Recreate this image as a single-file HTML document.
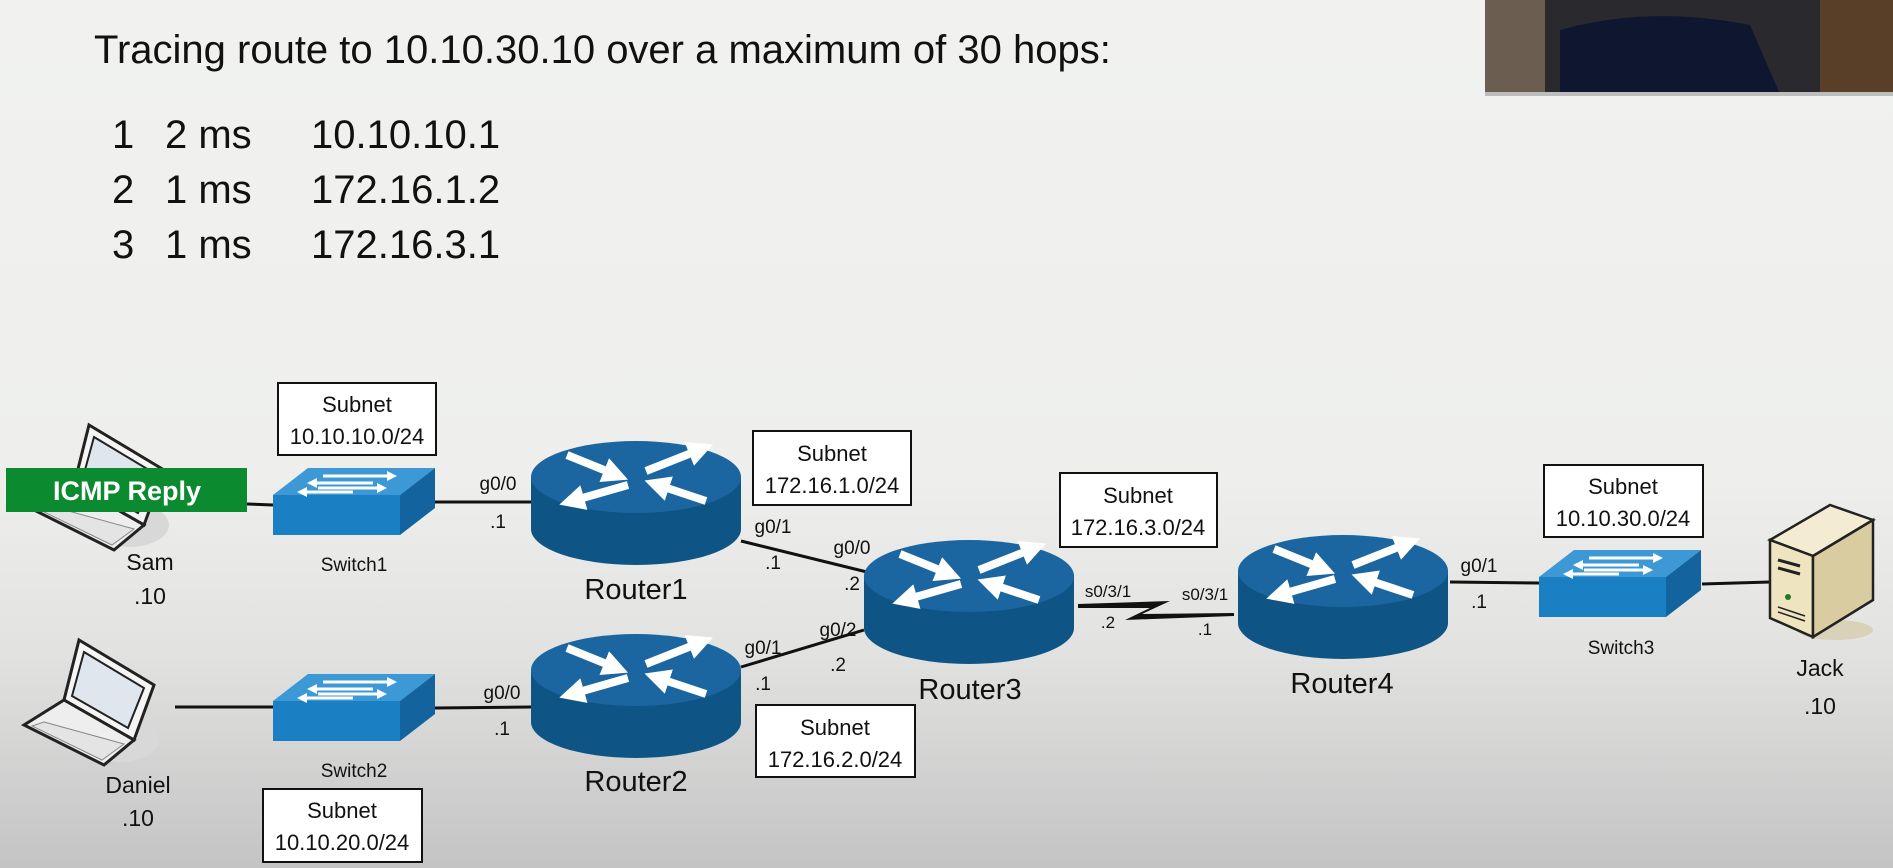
<!DOCTYPE html>
<html><head><meta charset="utf-8"><style>
html,body{margin:0;padding:0}
body{width:1893px;height:868px;overflow:hidden;background:linear-gradient(#f1f2f0 0%,#eeefed 55%,#e2e2e1 75%,#c4c4c4 100%);font-family:"Liberation Sans",sans-serif}
svg{position:absolute;left:0;top:0}
</style></head><body>
<svg width="1893" height="868" viewBox="0 0 1893 868" font-family="Liberation Sans, sans-serif">
<defs>
<marker id="ah" viewBox="0 0 10 10" refX="2" refY="5" markerWidth="3.2" markerHeight="3.2" orient="auto" markerUnits="strokeWidth">
 <path d="M0,0 L10,5 L0,10 Z" fill="#fff"/>
</marker>
<g id="router">
 <path d="M0,36 L0,88 A105,36 0 0 0 210,88 L210,36 Z" fill="#0e5586"/>
 <ellipse cx="105" cy="36" rx="105" ry="36" fill="#1b66a0"/>
 <g stroke="#fff" stroke-width="8" marker-end="url(#ah)">
  <line x1="36" y1="14" x2="78" y2="31"/>
  <line x1="115" y1="30" x2="163" y2="11"/>
  <line x1="97" y1="44" x2="48" y2="58"/>
  <line x1="175" y1="60" x2="133" y2="46"/>
 </g>
</g>
<g id="switch">
 <polygon points="0,27 127,27 162,0 35,0" fill="#3c99d6"/>
 <rect x="0" y="27" width="127" height="40" fill="#1b7fc4"/>
 <polygon points="127,27 162,0 162,40 127,67" fill="#12639e"/>
 <g stroke="#fff" stroke-width="3" fill="#fff">
  <line x1="50" y1="8" x2="120" y2="8"/><polygon points="124,8 114,3 114,13" stroke="none"/>
  <line x1="40" y1="15" x2="100" y2="15"/><polygon points="34,15 44,10 44,20" stroke="none"/>
  <line x1="45" y1="20" x2="110" y2="20"/><polygon points="114,20 104,15 104,25" stroke="none"/>
  <line x1="30" y1="24" x2="80" y2="24"/><polygon points="24,24 34,19 34,29" stroke="none"/>
 </g>
</g>
<g id="laptop">
 <ellipse cx="95" cy="100" rx="40" ry="22" fill="#d8d8d8"/>
 <polygon points="55,0 130,45 110,100 40,60" fill="#f5f5f5" stroke="#222" stroke-width="3"/>
 <polygon points="60,12 120,48 104,88 48,56" fill="#dfe6ee" stroke="#222" stroke-width="2"/>
 <polygon points="40,60 110,100 80,125 0,85" fill="#eee" stroke="#222" stroke-width="3"/>
 <polygon points="20,82 100,104 78,120 8,86" fill="#e4e4e4" stroke="#888" stroke-width="1"/>
</g>
</defs>

<text x="94" y="63" font-size="40" fill="#111">Tracing route to 10.10.30.10 over a maximum of 30 hops:</text>
<g font-size="40" fill="#111">
 <text x="112" y="148">1</text><text x="165" y="148">2 ms</text><text x="311" y="148">10.10.10.1</text>
 <text x="112" y="203">2</text><text x="165" y="203">1 ms</text><text x="311" y="203">172.16.1.2</text>
 <text x="112" y="258">3</text><text x="165" y="258">1 ms</text><text x="311" y="258">172.16.3.1</text>
</g>

<!-- webcam -->
<rect x="1485" y="0" width="408" height="94" fill="#2a2a2e"/>
<rect x="1485" y="0" width="60" height="94" fill="#6b5e50"/>
<rect x="1820" y="0" width="73" height="94" fill="#5a3f28"/>
<path d="M1560,94 L1560,30 Q1650,5 1750,25 L1780,94 Z" fill="#0f1630"/>
<rect x="1485" y="92" width="408" height="4" fill="#bdbdbd"/>

<!-- lines -->
<g stroke="#111" stroke-width="3" fill="none">
 <line x1="247" y1="504" x2="273" y2="505"/>
 <line x1="435" y1="502" x2="531" y2="502"/>
 <line x1="741" y1="541" x2="871" y2="573"/>
 <line x1="175" y1="707" x2="273" y2="707"/>
 <line x1="435" y1="708" x2="531" y2="707"/>
 <line x1="741" y1="667" x2="864" y2="630"/>
 <line x1="1450" y1="582" x2="1539" y2="583"/>
 <line x1="1702" y1="584" x2="1770" y2="582"/>
</g>
<polygon points="1078,604 1170,601 1142,614 1234,613 1234,616 1125,620 1150,608 1078,608" fill="#111"/>

<use href="#router" x="531" y="441"/>
<use href="#router" x="531" y="634"/>
<use href="#router" x="864" y="540"/>
<use href="#router" x="1238" y="535"/>

<use href="#switch" x="273" y="468"/>
<use href="#switch" x="273" y="674"/>
<use href="#switch" x="1539" y="550"/>

<use href="#laptop" x="34" y="425"/>
<use href="#laptop" x="24" y="640"/>

<!-- server -->
<g>
 <ellipse cx="1835" cy="630" rx="38" ry="10" fill="#d9d2b8"/>
 <polygon points="1770,540 1830,505 1873,520 1813,556" fill="#f4ecd2" stroke="#222" stroke-width="2.5"/>
 <polygon points="1770,540 1813,556 1813,637 1770,618" fill="#efe4c0" stroke="#222" stroke-width="2.5"/>
 <polygon points="1813,556 1873,520 1873,600 1813,637" fill="#d9cca0" stroke="#222" stroke-width="2.5"/>
 <line x1="1778" y1="560" x2="1800" y2="566" stroke="#222" stroke-width="3"/>
 <line x1="1778" y1="568" x2="1800" y2="574" stroke="#222" stroke-width="3"/>
 <circle cx="1788" cy="597" r="3" fill="#1a7a2a"/>
 <line x1="1778" y1="607" x2="1805" y2="616" stroke="#222" stroke-width="1.5"/>
 <line x1="1778" y1="612" x2="1805" y2="621" stroke="#222" stroke-width="1.5"/>
</g>

<!-- ICMP -->
<rect x="6" y="468" width="241" height="44" fill="#0c8a2f"/>
<text x="127" y="500" font-size="27" font-weight="bold" fill="#fff" text-anchor="middle">ICMP Reply</text>

<!-- subnet boxes -->
<g fill="#fff" stroke="#111" stroke-width="2">
 <rect x="278" y="383" width="158" height="72"/>
 <rect x="753" y="431" width="158" height="74"/>
 <rect x="1060" y="473" width="157" height="74"/>
 <rect x="1544" y="465" width="159" height="72"/>
 <rect x="756" y="705" width="159" height="72"/>
 <rect x="263" y="789" width="159" height="73"/>
</g>
<g font-size="22" fill="#111" text-anchor="middle">
 <text x="357" y="412">Subnet</text><text x="357" y="444">10.10.10.0/24</text>
 <text x="832" y="461">Subnet</text><text x="832" y="493">172.16.1.0/24</text>
 <text x="1138" y="503">Subnet</text><text x="1138" y="535">172.16.3.0/24</text>
 <text x="1623" y="494">Subnet</text><text x="1623" y="526">10.10.30.0/24</text>
 <text x="835" y="735">Subnet</text><text x="835" y="767">172.16.2.0/24</text>
 <text x="342" y="818">Subnet</text><text x="342" y="850">10.10.20.0/24</text>
</g>

<g font-size="29" fill="#111" text-anchor="middle">
 <text x="636" y="599">Router1</text>
 <text x="636" y="791">Router2</text>
 <text x="970" y="699">Router3</text>
 <text x="1342" y="693">Router4</text>
</g>
<g font-size="19" fill="#111" text-anchor="middle">
 <text x="354" y="571">Switch1</text>
 <text x="354" y="777">Switch2</text>
 <text x="1621" y="654">Switch3</text>
</g>
<g font-size="23" fill="#111" text-anchor="middle">
 <text x="150" y="570">Sam</text><text x="150" y="604">.10</text>
 <text x="138" y="793">Daniel</text><text x="138" y="826">.10</text>
 <text x="1820" y="676">Jack</text><text x="1820" y="714">.10</text>
</g>
<g font-size="19" fill="#111" text-anchor="middle">
 <text x="498" y="490">g0/0</text><text x="498" y="528">.1</text>
 <text x="773" y="533">g0/1</text><text x="773" y="569">.1</text>
 <text x="852" y="554">g0/0</text><text x="852" y="590">.2</text>
 <text x="763" y="654">g0/1</text><text x="763" y="690">.1</text>
 <text x="838" y="636">g0/2</text><text x="838" y="671">.2</text>
 <text x="502" y="699">g0/0</text><text x="502" y="735">.1</text>
 <text x="1479" y="572">g0/1</text><text x="1479" y="608">.1</text>
</g>
<g font-size="17" fill="#111" text-anchor="middle">
 <text x="1108" y="597">s0/3/1</text><text x="1108" y="628">.2</text>
 <text x="1205" y="600">s0/3/1</text><text x="1205" y="635">.1</text>
</g>
</svg>
</body></html>
